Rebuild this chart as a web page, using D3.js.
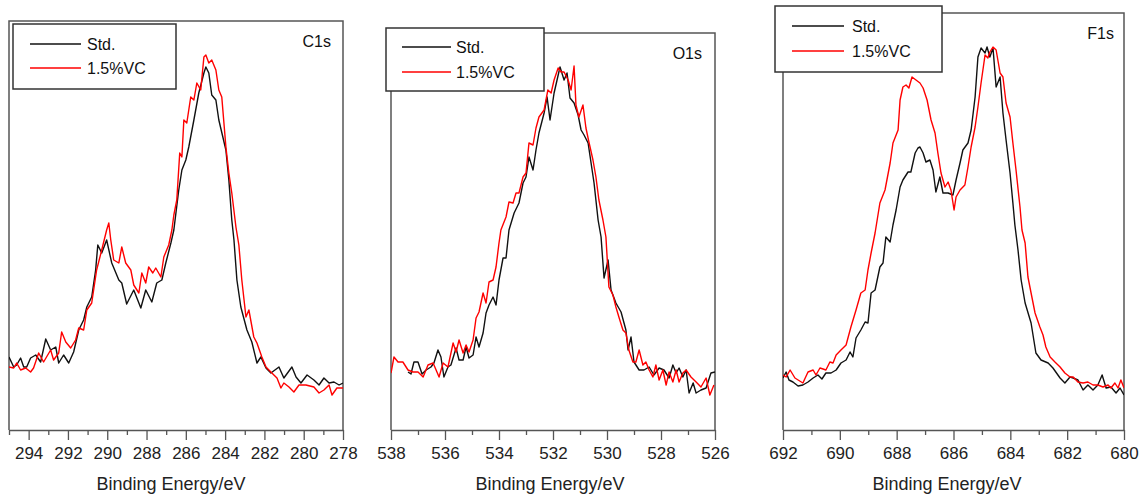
<!DOCTYPE html>
<html>
<head>
<meta charset="utf-8">
<script src="https://cdn.jsdelivr.net/npm/d3@7"></script>
<style>
  body { margin: 0; background: #fff; }
  svg { display: block; font-family: "Liberation Sans", Arial, sans-serif; }
</style>
</head>
<body>
<script>
const width = 1143;
const height = 494;

// series names
const seriesNames = ["Std.", "1.5%VC"];
const seriesColors = ["#111", "#ff0000"];

// C1s  [binding energy eV, counts a.u.]
const c1sStd = [[295.00,73],[294.76,63],[294.61,65],[294.41,72],[294.25,63],[294.10,63],[293.90,72],[293.64,75],[293.39,68],[293.13,91],[292.88,80],[292.62,83],[292.47,67],[292.22,75],[291.96,67],[291.71,78],[291.45,100],[291.20,110],[291.04,123],[290.79,133],[290.59,160],[290.48,185],[290.28,177],[290.03,190],[289.77,167],[289.41,150],[289.26,147],[289.01,126],[288.65,140],[288.29,122],[288.04,140],[287.73,128],[287.48,147],[287.22,150],[287.02,167],[286.76,187],[286.61,200],[286.36,240],[286.20,260],[286.00,270],[285.85,283],[285.59,310],[285.34,337],[285.08,357],[284.98,363],[284.83,357],[284.68,335],[284.47,330],[284.32,310],[283.96,280],[283.81,250],[283.66,210],[283.55,190],[283.40,150],[283.20,123],[282.89,100],[282.64,88],[282.38,67],[282.18,73],[281.92,62],[281.67,57],[281.26,63],[281.01,52],[280.60,63],[280.39,53],[280.14,47],[279.83,55],[279.48,50],[279.22,45],[278.97,52],[278.71,47],[278.46,48],[278.20,45],[278.00,47]];
const c1sVC = [[295.00,63],[294.76,62],[294.61,67],[294.41,60],[294.15,62],[293.90,58],[293.75,62],[293.49,77],[293.24,68],[292.88,80],[292.73,70],[292.47,77],[292.32,98],[292.11,88],[291.86,82],[291.61,90],[291.45,102],[291.20,100],[291.04,120],[290.79,127],[290.54,160],[290.28,180],[290.03,200],[289.92,207],[289.82,190],[289.67,170],[289.41,167],[289.26,183],[289.06,167],[288.80,160],[288.65,145],[288.39,137],[288.24,157],[288.04,147],[287.89,163],[287.68,157],[287.53,162],[287.27,153],[287.12,173],[286.87,185],[286.71,200],[286.61,215],[286.46,230],[286.31,277],[286.20,273],[286.10,310],[285.95,307],[285.75,333],[285.59,330],[285.44,347],[285.24,340],[285.08,373],[284.98,375],[284.83,367],[284.68,370],[284.47,360],[284.32,340],[284.17,333],[283.96,283],[283.81,257],[283.66,237],[283.45,203],[283.30,185],[283.15,150],[282.94,113],[282.79,120],[282.54,93],[282.38,87],[282.13,73],[281.92,63],[281.62,57],[281.36,52],[281.16,42],[281.01,47],[280.75,43],[280.50,38],[280.24,45],[279.89,45],[279.48,43],[279.22,37],[278.97,40],[278.71,45],[278.56,35],[278.31,42],[278.00,42]];

// O1s
const o1sStd = [[537.37,58],[537.26,56],[537.15,68],[537.00,68],[536.85,56],[536.70,60],[536.52,63],[536.41,67],[536.26,80],[536.15,73],[536.04,53],[535.89,63],[535.78,65],[535.59,82],[535.48,70],[535.33,70],[535.22,83],[535.11,72],[534.96,75],[534.85,93],[534.74,83],[534.59,97],[534.48,117],[534.37,125],[534.22,133],[534.11,125],[534.00,150],[533.85,172],[533.74,172],[533.63,200],[533.44,217],[533.26,227],[533.11,247],[533.00,253],[532.89,273],[532.74,260],[532.63,280],[532.52,297],[532.33,317],[532.22,333],[532.11,310],[531.96,337],[531.85,350],[531.74,363],[531.59,350],[531.48,357],[531.37,332],[531.22,327],[531.07,315],[530.96,300],[530.85,295],[530.70,287],[530.59,267],[530.48,247],[530.33,210],[530.22,193],[530.11,152],[529.96,170],[529.85,140],[529.67,127],[529.48,118],[529.30,100],[529.22,80],[529.11,93],[529.00,68],[528.81,60],[528.63,60],[528.44,63],[528.26,55],[528.07,62],[527.89,60],[527.70,52],[527.56,65],[527.44,57],[527.33,62],[527.19,53],[527.07,60],[526.96,37],[526.81,47],[526.70,37],[526.52,40],[526.33,42],[526.15,57],[526.00,58]];
const o1sVC = [[538.00,57],[537.89,73],[537.74,68],[537.56,68],[537.37,60],[537.19,58],[537.00,58],[536.81,53],[536.63,65],[536.44,67],[536.22,53],[536.07,67],[535.89,63],[535.70,87],[535.59,78],[535.48,90],[535.33,77],[535.22,85],[535.11,78],[534.96,90],[534.85,112],[534.74,118],[534.59,137],[534.48,127],[534.37,148],[534.22,150],[534.11,163],[534.00,187],[533.93,200],[533.74,213],[533.63,228],[533.48,227],[533.37,237],[533.26,237],[533.11,253],[533.00,257],[532.89,287],[532.74,285],[532.63,302],[532.52,313],[532.33,320],[532.19,340],[532.07,337],[531.96,350],[531.81,362],[531.70,358],[531.59,358],[531.44,350],[531.33,340],[531.22,364],[531.15,325],[531.04,313],[530.89,325],[530.78,302],[530.67,288],[530.52,270],[530.41,253],[530.30,230],[530.15,210],[530.04,193],[529.93,143],[529.78,135],[529.67,123],[529.56,113],[529.41,100],[529.30,97],[529.19,80],[529.04,68],[528.93,68],[528.81,80],[528.67,65],[528.56,68],[528.44,60],[528.30,53],[528.19,65],[528.07,50],[527.93,60],[527.81,45],[527.70,58],[527.56,48],[527.44,60],[527.33,48],[527.19,57],[527.07,60],[526.89,53],[526.70,48],[526.52,43],[526.33,52],[526.19,35],[526.04,45]];

// F1s
const f1sStd = [[692.00,52],[691.89,58],[691.79,50],[691.65,48],[691.47,44],[691.30,45],[691.12,48],[690.94,52],[690.77,55],[690.63,51],[690.49,57],[690.31,57],[690.13,60],[689.96,67],[689.78,70],[689.64,78],[689.54,73],[689.43,92],[689.26,100],[689.11,108],[689.01,107],[688.90,137],[688.76,140],[688.59,163],[688.48,167],[688.38,193],[688.23,188],[688.13,205],[688.02,220],[687.88,243],[687.78,250],[687.60,258],[687.50,258],[687.35,277],[687.25,282],[687.18,283],[687.07,277],[686.97,268],[686.83,270],[686.72,260],[686.62,238],[686.48,253],[686.37,237],[686.19,237],[686.02,235],[685.91,250],[685.77,267],[685.67,280],[685.49,287],[685.38,300],[685.24,333],[685.14,373],[685.03,382],[684.89,377],[684.82,383],[684.72,373],[684.61,382],[684.50,343],[684.36,353],[684.26,317],[684.15,290],[684.01,257],[683.91,227],[683.84,205],[683.73,180],[683.62,150],[683.48,127],[683.27,107],[683.10,77],[682.92,70],[682.67,67],[682.50,62],[682.25,52],[682.08,47],[681.90,53],[681.79,52],[681.62,50],[681.44,40],[681.27,45],[681.09,40],[680.92,45],[680.77,55],[680.63,42],[680.46,43],[680.28,37],[680.14,42],[680.00,35]];
const f1sVC = [[692.00,55],[691.89,53],[691.75,60],[691.58,52],[691.30,47],[691.12,58],[690.94,60],[690.84,55],[690.70,62],[690.59,61],[690.49,60],[690.35,68],[690.24,67],[690.13,75],[689.96,80],[689.78,85],[689.61,103],[689.43,120],[689.26,137],[689.11,140],[689.01,160],[688.90,177],[688.76,197],[688.59,227],[688.41,240],[688.23,267],[688.13,287],[687.95,300],[687.88,330],[687.78,343],[687.67,345],[687.57,342],[687.46,353],[687.32,350],[687.18,347],[687.07,342],[686.93,330],[686.79,310],[686.65,297],[686.55,277],[686.44,257],[686.30,243],[686.19,248],[686.09,240],[685.98,220],[685.91,233],[685.77,240],[685.60,245],[685.49,263],[685.38,283],[685.24,303],[685.14,323],[685.03,347],[684.89,375],[684.79,372],[684.72,378],[684.61,383],[684.50,380],[684.36,357],[684.26,353],[684.15,327],[684.01,313],[683.91,287],[683.80,260],[683.66,223],[683.59,200],[683.48,187],[683.38,153],[683.27,137],[683.13,117],[682.96,103],[682.85,95],[682.75,83],[682.60,73],[682.43,68],[682.25,63],[682.08,57],[681.90,53],[681.79,53],[681.62,48],[681.44,47],[681.27,48],[681.09,45],[680.92,45],[680.74,43],[680.56,45],[680.46,42],[680.32,47],[680.21,42],[680.11,50],[680.00,42]];

// tick values
const c1sTicks = [294, 292, 290, 288, 286, 284, 282, 280, 278];
const c1sMinor = [295, 293, 291, 289, 287, 285, 283, 281, 279];
const o1sTicks = [538, 536, 534, 532, 530, 528, 526];
const o1sMinor = [537, 535, 533, 531, 529, 527];
const f1sTicks = [692, 690, 688, 686, 684, 682, 680];
const f1sMinor = [691, 689, 687, 685, 683, 681];

const xTitle = "Binding Energy/eV";

// layout per panel (pixels)
const panels = [
  { name: "C1s", domain: [295, 278], ticks: c1sTicks, minor: c1sMinor, series: [c1sStd, c1sVC],
    left: 9, right: 343, top: 21, labelX: 331, labelY: 47, titleX: 171,
    legend: { x: 13, y: 24, w: 163, h: 65, lx: 30, lw: 51, ly: [44, 68], tx: 87 } },
  { name: "O1s", domain: [538, 526], ticks: o1sTicks, minor: o1sMinor, series: [o1sStd, o1sVC],
    left: 391, right: 715, top: 33, labelX: 702, labelY: 59, titleX: 550,
    legend: { x: 386, y: 28, w: 158, h: 63, lx: 402, lw: 49, ly: [47, 72], tx: 456 } },
  { name: "F1s", domain: [692, 680], ticks: f1sTicks, minor: f1sMinor, series: [f1sStd, f1sVC],
    left: 783, right: 1124, top: 13, labelX: 1114, labelY: 39, titleX: 947,
    legend: { x: 775, y: 6, w: 167, h: 66, lx: 792, lw: 52, ly: [26, 51], tx: 852 } }
];
const bottom = 430;
const frameColor = "#555";

const svg = d3.select("body").append("svg")
  .attr("width", width)
  .attr("height", height);

svg.append("rect").attr("width", width).attr("height", height).attr("fill", "#fff");

panels.forEach((p, i) => {
  const x = d3.scaleLinear().domain(p.domain).range([p.left, p.right]);
  const y = d3.scaleLinear().domain([0, bottom - p.top]).range([bottom, p.top]);

  const g = svg.append("g").attr("class", "panel");

  g.append("clipPath").attr("id", "clip" + i)
    .append("rect")
    .attr("x", p.left).attr("y", p.top)
    .attr("width", p.right - p.left).attr("height", bottom - p.top);

  // frame: left, top, right
  g.append("path")
    .attr("d", `M${p.left},${bottom}V${p.top}H${p.right}V${bottom}`)
    .attr("fill", "none")
    .attr("stroke", frameColor)
    .attr("stroke-width", 1.5);

  // minor ticks
  const minorAxis = g.append("g")
    .attr("transform", `translate(0,${bottom})`)
    .call(d3.axisBottom(x).tickValues(p.minor).tickSize(5).tickFormat(""));
  minorAxis.select(".domain").remove();
  minorAxis.selectAll("line").attr("stroke", frameColor).attr("stroke-width", 1.3);

  // major axis
  const axis = g.append("g")
    .attr("transform", `translate(0,${bottom})`)
    .call(d3.axisBottom(x).tickValues(p.ticks).tickSize(10).tickPadding(7).tickSizeOuter(0).tickFormat(d3.format("d")));
  axis.select(".domain").attr("stroke", frameColor).attr("stroke-width", 1.5);
  axis.selectAll("line").attr("stroke", frameColor).attr("stroke-width", 1.3);
  axis.selectAll("text")
    .attr("font-size", 17)
    .attr("font-family", "Liberation Sans, Arial, sans-serif")
    .attr("fill", "#222");

  // axis title
  g.append("text")
    .attr("x", p.titleX)
    .attr("y", 490)
    .attr("text-anchor", "middle")
    .attr("font-size", 18)
    .attr("fill", "#222")
    .text(xTitle);

  // curves
  const line = d3.line().x(d => x(d[0])).y(d => y(d[1]));
  const lines = g.append("g").attr("clip-path", `url(#clip${i})`);
  p.series.forEach((s, k) => {
    lines.append("path")
      .datum(s)
      .attr("d", line)
      .attr("fill", "none")
      .attr("stroke", seriesColors[k])
      .attr("stroke-width", 1.4)
      .attr("stroke-linejoin", "round");
  });

  // panel label
  g.append("text")
    .attr("x", p.labelX)
    .attr("y", p.labelY)
    .attr("text-anchor", "end")
    .attr("font-size", 16)
    .attr("fill", "#111")
    .text(p.name);

  // legend
  const lg = g.append("g");
  lg.append("rect")
    .attr("x", p.legend.x).attr("y", p.legend.y)
    .attr("width", p.legend.w).attr("height", p.legend.h)
    .attr("fill", "#fff")
    .attr("stroke", "#333")
    .attr("stroke-width", 1.5);
  seriesNames.forEach((n, k) => {
    lg.append("line")
      .attr("x1", p.legend.lx).attr("x2", p.legend.lx + p.legend.lw)
      .attr("y1", p.legend.ly[k]).attr("y2", p.legend.ly[k])
      .attr("stroke", seriesColors[k])
      .attr("stroke-width", 1.3);
    lg.append("text")
      .attr("x", p.legend.tx)
      .attr("y", p.legend.ly[k])
      .attr("dy", "0.36em")
      .attr("font-size", 16)
      .attr("fill", "#111")
      .text(n);
  });
});
</script>
</body>
</html>
